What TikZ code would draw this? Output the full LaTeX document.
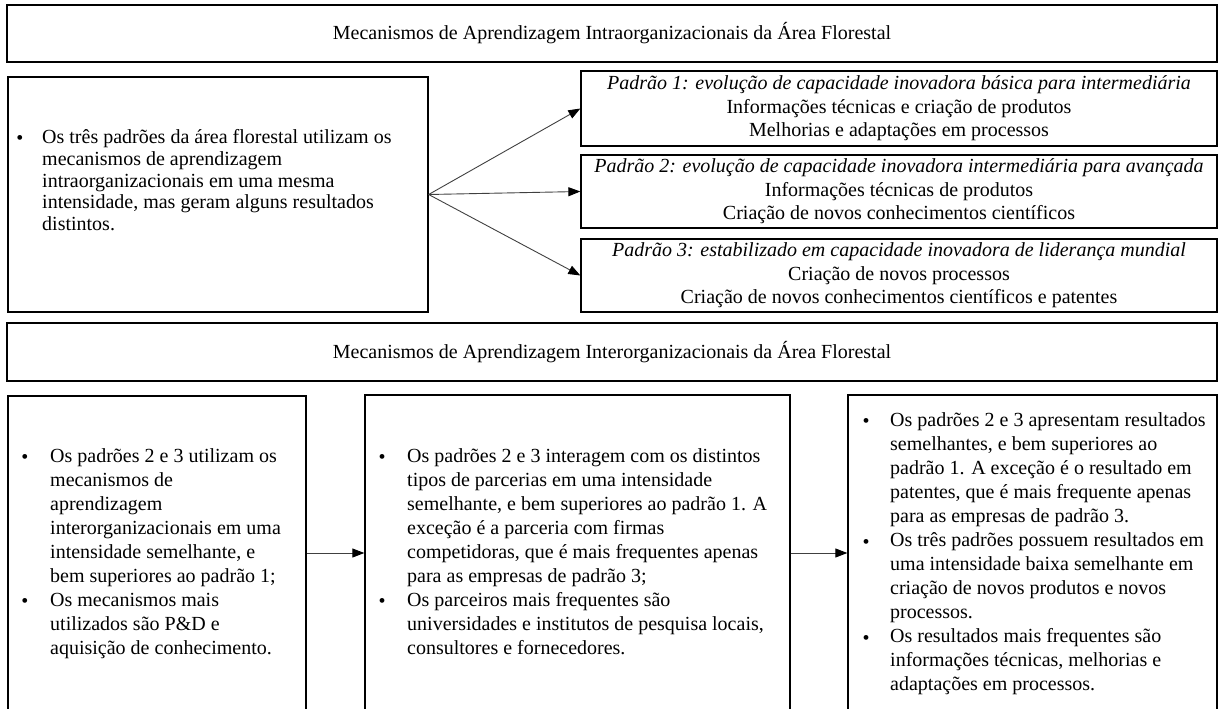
\documentclass[tikz,border=0pt]{standalone}
\usepackage{fontspec}
\setmainfont{Liberation Serif}
\usetikzlibrary{arrows.meta}
\tikzset{
  box/.style={draw=black, line width=1.3pt, inner sep=0pt, anchor=center},
  conn/.style={draw=black!75, line width=0.9pt, -{Triangle[length=12pt,width=9pt,color=black,fill=black]}},
  para/.style={anchor=north west, inner sep=0pt, align=left},
  bul/.style={inner sep=0pt, anchor=center},
  txt/.style={font=\fontsize{20}{24}\selectfont},
  txtb/.style={font=\fontsize{20}{21.7}\selectfont},
  txtc/.style={font=\fontsize{20}{23.5}\selectfont, align=center}
}
\begin{document}
\begin{tikzpicture}[x=1pt,y=-1pt]
\useasboundingbox (0,0) rectangle (1224,709);
\clip (0,0) rectangle (1224,709);
% headers
\node[box, txt, minimum width=1210pt, minimum height=57pt] (h1) at (612,33.5)
  {Mecanismos de Aprendizagem Intraorganizacionais da Área Florestal};
\node[box, txt, minimum width=1210pt, minimum height=58pt] (h2) at (612,352)
  {Mecanismos de Aprendizagem Interorganizacionais da Área Florestal};
% intra left box
\node[box, minimum width=420pt, minimum height=235pt] (lb) at (218,194.5) {};
\node[bul, txtb] (lbb) at (20,140) {•};
\node[para, txtb] (lbt) at (42,129.5) {Os três padrões da área florestal utilizam os\\
mecanismos de aprendizagem\\
intraorganizacionais em uma mesma\\
intensidade, mas geram alguns resultados\\
distintos.};
% right boxes
\node[box, txtc, minimum width=636pt, minimum height=75pt] (b1) at (899,108.5)
  {\textit{Padrão 1: evolução de capacidade inovadora básica para intermediária}\\
   Informações técnicas e criação de produtos\\
   Melhorias e adaptações em processos};
\node[box, txtc, minimum width=636pt, minimum height=73pt] (b2) at (899,191.5)
  {\textit{Padrão 2: evolução de capacidade inovadora intermediária para avançada}\\
   Informações técnicas de produtos\\
   Criação de novos conhecimentos científicos};
\node[box, txtc, minimum width=636pt, minimum height=73pt] (b3) at (899,275.5)
  {\textit{Padrão 3: estabilizado em capacidade inovadora de liderança mundial}\\
   Criação de novos processos\\
   Criação de novos conhecimentos científicos e patentes};
\draw[conn] (lb.east) -- (b1.west);
\draw[conn] (lb.east) -- (b2.west);
\draw[conn] (lb.east) -- (b3.west);
% bottom boxes
\node[box, minimum width=298pt, minimum height=324pt] (ba) at (157,558) {};
\node[box, minimum width=425pt, minimum height=325pt] (bb) at (577.5,557.5) {};
\node[box, minimum width=369pt, minimum height=325pt] (bc) at (1032.5,557.5) {};
\coordinate (ya) at (0,553);
\draw[conn] (ba.east |- ya) -- (bb.west |- ya);
\draw[conn] (bb.east |- ya) -- (bc.west |- ya);
% bottom texts
\node[bul, txt] (bab1) at (25,459) {•};
\node[bul, txt] (bab2) at (25,603) {•};
\node[para, txt] (bat) at (50,448.5) {Os padrões 2 e 3 utilizam os\\
mecanismos de\\
aprendizagem\\
interorganizacionais em uma\\
intensidade semelhante, e\\
bem superiores ao padrão 1;\\
Os mecanismos mais\\
utilizados são P\&D e\\
aquisição de conhecimento.};
\node[bul, txt] (bbb1) at (382,459) {•};
\node[bul, txt] (bbb2) at (382,603) {•};
\node[para, txt] (bbt) at (407,448.5) {Os padrões 2 e 3 interagem com os distintos\\
tipos de parcerias em uma intensidade\\
semelhante, e bem superiores ao padrão 1. A\\
exceção é a parceria com firmas\\
competidoras, que é mais frequentes apenas\\
para as empresas de padrão 3;\\
Os parceiros mais frequentes são\\
universidades e institutos de pesquisa locais,\\
consultores e fornecedores.};
\node[bul, txt] (bcb1) at (866,423) {•};
\node[bul, txt] (bcb2) at (866,544) {•};
\node[bul, txt] (bcb3) at (866,640) {•};
\node[para, txt] (bct) at (890,412.5) {Os padrões 2 e 3 apresentam resultados\\
semelhantes, e bem superiores ao\\
padrão 1. A exceção é o resultado em\\
patentes, que é mais frequente apenas\\
para as empresas de padrão 3.\\
Os três padrões possuem resultados em\\
uma intensidade baixa semelhante em\\
criação de novos produtos e novos\\
processos.\\
Os resultados mais frequentes são\\
informações técnicas, melhorias e\\
adaptações em processos.};
\end{tikzpicture}
\end{document}
